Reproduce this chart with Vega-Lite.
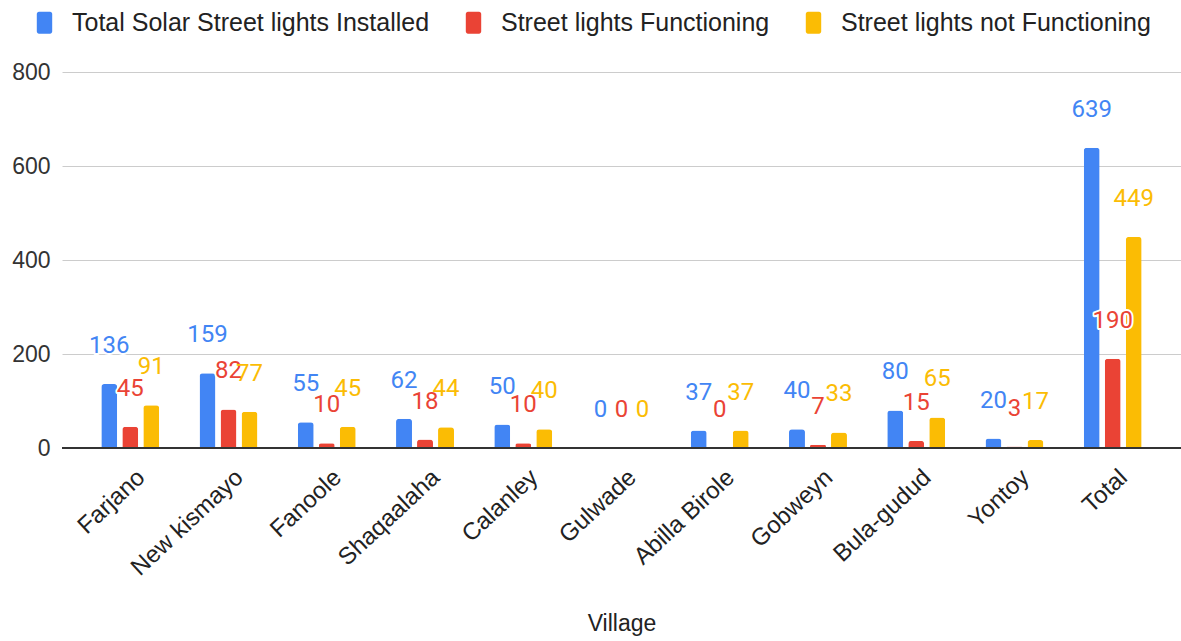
{
  "$schema": "https://vega.github.io/schema/vega-lite/v6.json",
  "width": 1119,
  "height": 376,
  "autosize": "none",
  "padding": {"left": 62, "top": 72, "right": 0, "bottom": 193},
  "background": "white",
  "config": {"view": {"stroke": null}, "font": "Liberation Sans"},
  "data": {"values": [
    {"village": "Farjano", "series": "Total Solar Street lights Installed", "value": 136},
    {"village": "Farjano", "series": "Street lights Functioning", "value": 45},
    {"village": "Farjano", "series": "Street lights not Functioning", "value": 91},
    {"village": "New kismayo", "series": "Total Solar Street lights Installed", "value": 159},
    {"village": "New kismayo", "series": "Street lights Functioning", "value": 82},
    {"village": "New kismayo", "series": "Street lights not Functioning", "value": 77},
    {"village": "Fanoole", "series": "Total Solar Street lights Installed", "value": 55},
    {"village": "Fanoole", "series": "Street lights Functioning", "value": 10},
    {"village": "Fanoole", "series": "Street lights not Functioning", "value": 45},
    {"village": "Shaqaalaha", "series": "Total Solar Street lights Installed", "value": 62},
    {"village": "Shaqaalaha", "series": "Street lights Functioning", "value": 18},
    {"village": "Shaqaalaha", "series": "Street lights not Functioning", "value": 44},
    {"village": "Calanley", "series": "Total Solar Street lights Installed", "value": 50},
    {"village": "Calanley", "series": "Street lights Functioning", "value": 10},
    {"village": "Calanley", "series": "Street lights not Functioning", "value": 40},
    {"village": "Gulwade", "series": "Total Solar Street lights Installed", "value": 0},
    {"village": "Gulwade", "series": "Street lights Functioning", "value": 0},
    {"village": "Gulwade", "series": "Street lights not Functioning", "value": 0},
    {"village": "Abilla Birole", "series": "Total Solar Street lights Installed", "value": 37},
    {"village": "Abilla Birole", "series": "Street lights Functioning", "value": 0},
    {"village": "Abilla Birole", "series": "Street lights not Functioning", "value": 37},
    {"village": "Gobweyn", "series": "Total Solar Street lights Installed", "value": 40},
    {"village": "Gobweyn", "series": "Street lights Functioning", "value": 7},
    {"village": "Gobweyn", "series": "Street lights not Functioning", "value": 33},
    {"village": "Bula-gudud", "series": "Total Solar Street lights Installed", "value": 80},
    {"village": "Bula-gudud", "series": "Street lights Functioning", "value": 15},
    {"village": "Bula-gudud", "series": "Street lights not Functioning", "value": 65},
    {"village": "Yontoy", "series": "Total Solar Street lights Installed", "value": 20},
    {"village": "Yontoy", "series": "Street lights Functioning", "value": 3},
    {"village": "Yontoy", "series": "Street lights not Functioning", "value": 17},
    {"village": "Total", "series": "Total Solar Street lights Installed", "value": 639},
    {"village": "Total", "series": "Street lights Functioning", "value": 190},
    {"village": "Total", "series": "Street lights not Functioning", "value": 449}
  ]},
  "layer": [
    {
      "mark": {"type": "bar", "cornerRadiusTopLeft": 3, "cornerRadiusTopRight": 3},
      "encoding": {
        "x": {"field": "village", "type": "nominal", "sort": null, "title": "Village",
          "scale": {"paddingInner": 0.41, "paddingOuter": 0.4},
          "axis": {"labelAngle": -43, "labelAlign": "right", "labelBaseline": "top", "labelPadding": 17, "labelOffset": 3,
            "domain": false, "ticks": false, "labelFont": "Liberation Sans", "labelFontSize": 24, "labelColor": "#222",
            "titleFont": "Liberation Sans", "titleFontSize": 23, "titleFontWeight": "normal", "titleColor": "#222",
            "titleBaseline": "middle", "titleY": 175}},
        "xOffset": {"field": "series", "type": "nominal",
          "scale": {"domain": ["Total Solar Street lights Installed", "Street lights Functioning", "Street lights not Functioning"], "paddingInner": 0.24, "paddingOuter": 0}},
        "y": {"field": "value", "type": "quantitative", "title": null,
          "scale": {"domain": [0, 800], "nice": false},
          "axis": {"values": [0, 200, 400, 600, 800], "domain": false, "ticks": false, "labelFont": "Liberation Sans", "labelFontSize": 23,
            "labelColor": "#333", "labelPadding": 12, "gridColor": "#cccccc", "gridWidth": 1}},
        "color": {"field": "series", "type": "nominal",
          "scale": {"domain": ["Total Solar Street lights Installed", "Street lights Functioning", "Street lights not Functioning"], "range": ["#4285F4", "#EA4335", "#FBBC04"]},
          "legend": {"orient": "none", "legendX": -30, "legendY": -62, "direction": "horizontal", "title": null,
            "symbolType": "M-0.5,-1H0.5A0.2,0.2 0 0 1 0.7,-0.8V0.8A0.2,0.2 0 0 1 0.5,1H-0.5A0.2,0.2 0 0 1 -0.7,0.8V-0.8A0.2,0.2 0 0 1 -0.5,-1Z",
            "symbolSize": 484, "symbolStrokeWidth": 0, "symbolOpacity": 1,
            "labelFont": "Liberation Sans", "labelFontSize": 25, "labelColor": "#222", "labelOffset": 15, "columnPadding": 31, "labelLimit": 500}}
      }
    },
    {
      "mark": {"type": "text", "dy": -38, "baseline": "middle", "align": "center", "font": "Roboto", "fontSize": 24, "fill": "white", "stroke": "white", "strokeWidth": 4, "strokeJoin": "round"},
      "encoding": {
        "x": {"field": "village", "type": "nominal", "sort": null},
        "xOffset": {"field": "series", "type": "nominal"},
        "y": {"field": "value", "type": "quantitative"},
        "text": {"field": "value", "type": "quantitative"}
      }
    },
    {
      "mark": {"type": "text", "dy": -38, "baseline": "middle", "align": "center", "font": "Roboto", "fontSize": 24},
      "encoding": {
        "x": {"field": "village", "type": "nominal", "sort": null},
        "xOffset": {"field": "series", "type": "nominal"},
        "y": {"field": "value", "type": "quantitative"},
        "text": {"field": "value", "type": "quantitative"},
        "color": {"field": "series", "type": "nominal"}
      }
    },
    {
      "data": {"values": [{}]},
      "mark": {"type": "rule", "color": "#333333", "strokeWidth": 2},
      "encoding": {"y": {"datum": 0}}
    }
  ]
}
